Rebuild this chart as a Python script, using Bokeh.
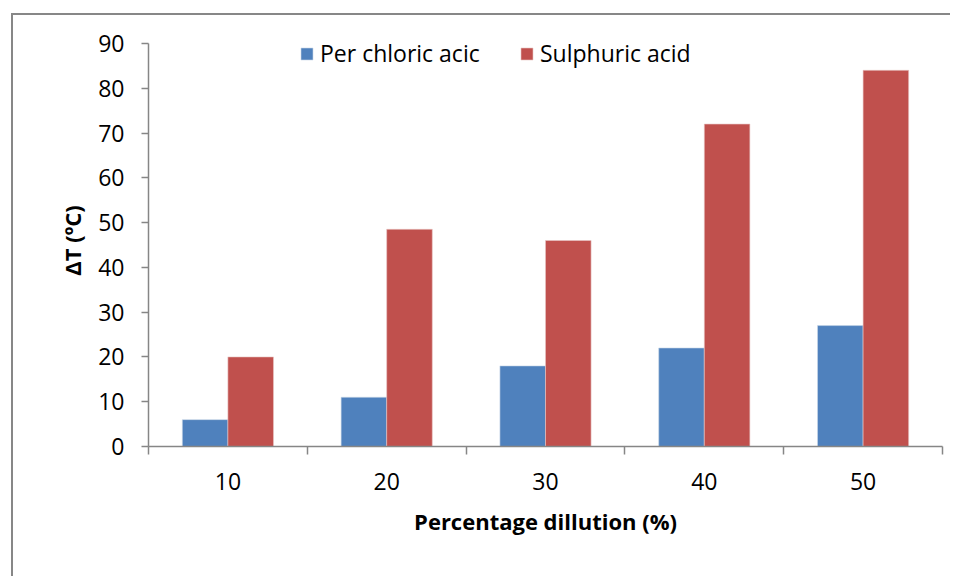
from bokeh.plotting import figure
from bokeh.models import ColumnDataSource, FixedTicker, Range1d, Legend, LegendItem
from bokeh.embed import file_html
from bokeh.resources import INLINE

categories = ["10", "20", "30", "40", "50"]
per_chloric = [6, 11, 18, 22, 27]
sulphuric = [20, 48.5, 46, 72, 84]
series_names = ["Per chloric acic", "Sulphuric acid"]
y_ticks = [0, 10, 20, 30, 40, 50, 60, 70, 80, 90]

BLUE = "#4F81BD"
RED = "#C0504D"
GRAY = "#868686"
FONT = "Open Sans"

n = len(categories)
centers = [i + 0.5 for i in range(n)]
bw = 0.287

src = ColumnDataSource(dict(
    xb=[c - bw / 2 for c in centers],
    xr=[c + bw / 2 for c in centers],
    pc=per_chloric,
    su=sulphuric,
))

p = figure(
    output_backend="svg", toolbar_location=None,
    frame_width=794, frame_height=412,
    min_border_left=135, min_border_right=8, min_border_top=19, min_border_bottom=130,
    x_range=Range1d(0, n), y_range=Range1d(0, 92),
    tools="",
)
p.margin = (13, 0, 0, 11)
p.styles = {"border-left": "2px solid #878787", "border-top": "2px solid #878787"}

rb = p.vbar(x="xb", top="pc", width=bw, source=src, fill_color=BLUE, line_color="#C9D6E8", line_width=0.6)
rr = p.vbar(x="xr", top="su", width=bw, source=src, fill_color=RED, line_color="#E8C6C5", line_width=0.6)

p.outline_line_color = None
p.xgrid.visible = False
p.ygrid.visible = False
p.background_fill_color = "white"
p.border_fill_color = "white"

# y axis
ya = p.yaxis[0]
ya.ticker = FixedTicker(ticks=y_ticks)
ya.bounds = (0, 90)
ya.axis_line_color = GRAY
ya.axis_line_width = 1.5
ya.major_tick_line_color = GRAY
ya.major_tick_line_width = 1.5
ya.major_tick_out = 7
ya.major_tick_in = 0
ya.minor_tick_line_color = None
ya.major_label_text_font = FONT
ya.major_label_text_font_size = "23px"
ya.major_label_text_color = "black"
ya.major_label_standoff = 17
ya.axis_label = "ΔT (ºC)"
ya.axis_label_text_font = FONT
ya.axis_label_text_font_style = "bold"
ya.axis_label_text_font_size = "22px"
ya.axis_label_text_color = "black"
ya.axis_label_standoff = 8

# x axis: labels at centers, tick marks at boundaries
xa = p.xaxis[0]
xa.ticker = FixedTicker(ticks=centers, minor_ticks=list(range(n + 1)))
xa.major_label_overrides = {c: lab for c, lab in zip(centers, categories)}
xa.axis_line_color = GRAY
xa.axis_line_width = 1.5
xa.major_tick_line_color = None
xa.major_tick_out = 0
xa.major_tick_in = 0
xa.minor_tick_line_color = GRAY
xa.minor_tick_line_width = 1.5
xa.minor_tick_out = 8
xa.minor_tick_in = 0
xa.major_label_text_font = FONT
xa.major_label_text_font_size = "23px"
xa.major_label_text_color = "black"
xa.major_label_standoff = 18
xa.axis_label = "Percentage dillution (%)"
xa.axis_label_text_font = FONT
xa.axis_label_text_font_style = "bold"
xa.axis_label_text_font_size = "22px"
xa.axis_label_text_color = "black"
xa.axis_label_standoff = 13

legend = Legend(
    items=[LegendItem(label=series_names[0], renderers=[rb]),
           LegendItem(label=series_names[1], renderers=[rr])],
    orientation="horizontal",
    location=(151, 377),
    padding=0, margin=0, spacing=5,
    glyph_width=15, glyph_height=15,
    label_standoff=6, label_width=194, label_height=20,
    label_text_font=FONT, label_text_font_size="23px", label_text_color="black",
    border_line_color=None, background_fill_alpha=0,
)
p.add_layout(legend, "center")

open("out.html", "w").write(file_html(p, INLINE))
